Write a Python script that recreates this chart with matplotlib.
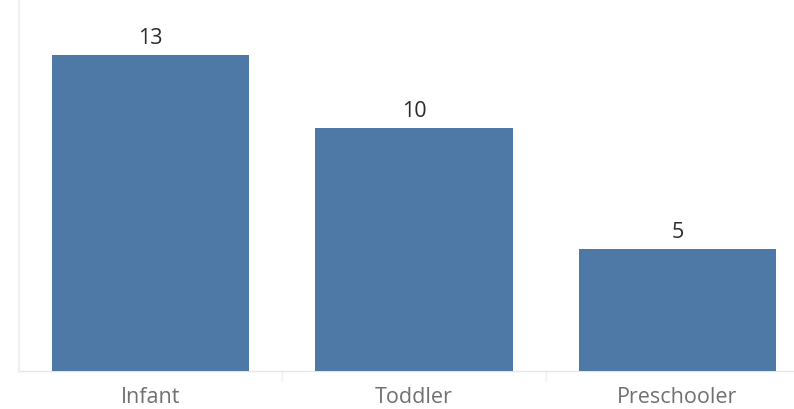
import matplotlib
matplotlib.use("Agg")
import matplotlib.pyplot as plt

categories = ["Infant", "Toddler", "Preschooler"]
values = [13, 10, 5]

W, H = 794, 409
fig = plt.figure(figsize=(W / 100, H / 100), dpi=100)
left_px, right_px = 19, 809
base_px = 371
ax = fig.add_axes([left_px / W, 1 - base_px / H, (right_px - left_px) / W, base_px / H])

ax.bar(range(len(categories)), values, width=0.75, color="#4e79a7", zorder=3)
ax.set_xlim(-0.5, len(categories) - 0.5)
ax.set_ylim(0, base_px / 24.3)

for i, v in enumerate(values):
    ax.text(i, v + 0.25, str(v), ha="center", va="bottom", fontsize=15.5,
            color="#2a2a2a", family="Open Sans")

for s in ["top", "right"]:
    ax.spines[s].set_visible(False)
ax.spines["left"].set_color("#f0f0f0")
ax.spines["left"].set_linewidth(1.5)
ax.spines["bottom"].set_color("#e6e6e6")
ax.spines["bottom"].set_linestyle((0, (3, 1)))
ax.spines["bottom"].set_linewidth(1)

ax.set_yticks([])
ax.set_xticks(range(len(categories)))
ax.set_xticklabels(categories, fontsize=15.5, color="#707070", family="Open Sans")
ax.tick_params(axis="x", length=0, pad=11.5)

# category dividers below axis
for b in [0.5, 1.5]:
    ax.plot([b, b], [0, -10 / 24.3], color="#f0f0f0", lw=1, clip_on=False)

fig.savefig("out.png", dpi=100)
